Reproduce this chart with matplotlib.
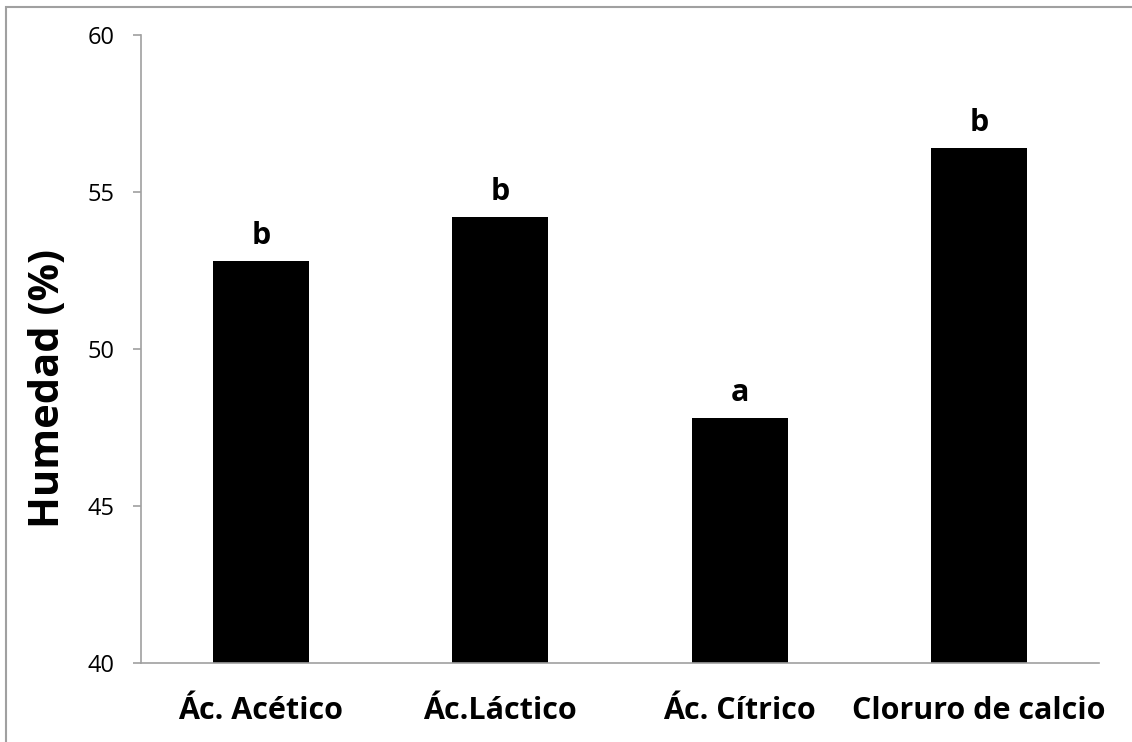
import matplotlib.pyplot as plt
from matplotlib.patches import Rectangle

# Datos de humedad por tratamiento
tratamientos = ['Ác. Acético', 'Ác.Láctico', 'Ác. Cítrico', 'Cloruro de calcio']
humedad = [52.8, 54.2, 47.8, 56.4]
letras = ['b', 'b', 'a', 'b']

plt.rcParams['font.family'] = ['Open Sans', 'DejaVu Sans']

fig = plt.figure(figsize=(11.32, 7.42), dpi=100)
ax = fig.add_axes([0.1246, 0.1065, 0.8462, 0.8463])

x = range(len(tratamientos))
barras = ax.bar(x, humedad, width=0.4, color='black')

# Letras de significancia sobre cada barra
for xi, val, letra in zip(x, humedad, letras):
    ax.annotate(letra, (xi, val), xytext=(0, 12), textcoords='offset points',
                ha='center', va='baseline', fontsize=22, fontweight='bold')

ax.set_ylim(40, 60)
ax.set_xlim(-0.5, 3.5)
ax.set_yticks([40, 45, 50, 55, 60])
ax.set_xticks(list(x))
ax.set_xticklabels(tratamientos, fontsize=22, fontweight='bold')

for lado in ['top', 'right']:
    ax.spines[lado].set_visible(False)
for lado in ['left', 'bottom']:
    ax.spines[lado].set_color('#a0a0a0')
    ax.spines[lado].set_linewidth(1.2)

ax.tick_params(axis='y', direction='out', length=6, width=1.2, color='#a0a0a0',
               labelsize=17, pad=13)
ax.tick_params(axis='x', length=0, pad=24)

fig.text(0.043, 1 - 389 / 742, 'Humedad (%)', rotation=90, ha='center', va='center',
         fontsize=30, fontweight='bold')

# Marco exterior del gráfico
fig.patches.append(Rectangle((6 / 1132, -0.05), 1.2, 1 - 7 / 742 + 0.05,
                             transform=fig.transFigure, fill=False,
                             edgecolor='#a0a0a0', linewidth=1.5))

fig.savefig('out.png', dpi=100)
